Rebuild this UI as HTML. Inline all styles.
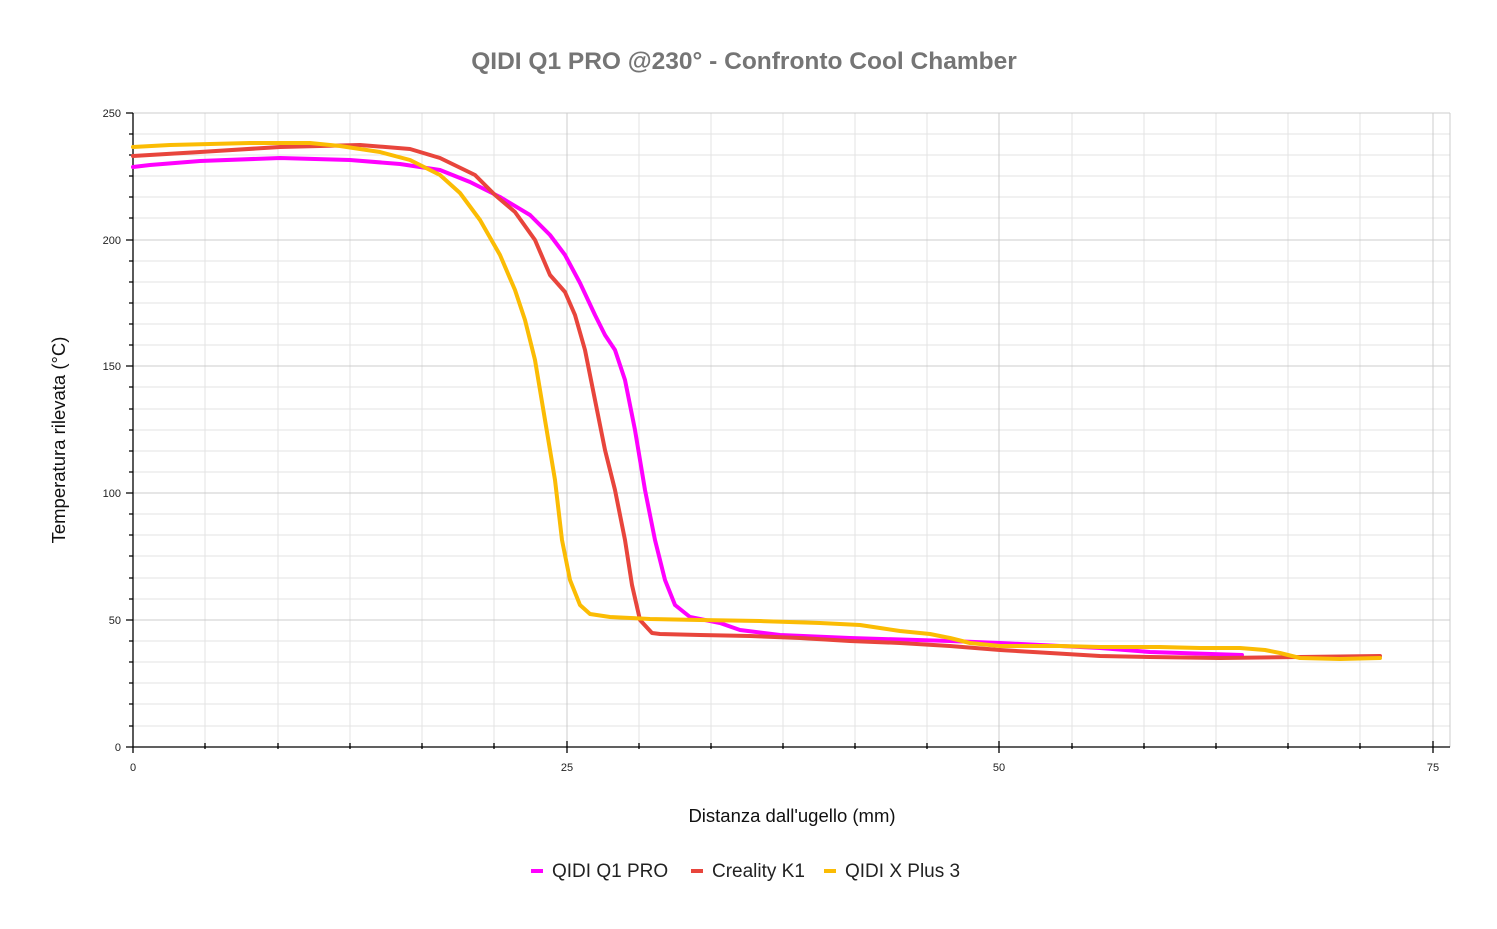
<!DOCTYPE html>
<html><head><meta charset="utf-8"><style>body{margin:0;background:#fff}svg{display:block}</style></head><body>
<svg width="1497" height="929" xmlns="http://www.w3.org/2000/svg" font-family="Liberation Sans, sans-serif">
<rect width="1497" height="929" fill="#fff"/>
<text x="744" y="69" text-anchor="middle" font-size="24.5" font-weight="bold" fill="#757575">QIDI Q1 PRO @230° - Confronto Cool Chamber</text>
<g stroke="#e3e3e3" stroke-width="1">
<line x1="205" y1="113" x2="205" y2="747"/><line x1="278" y1="113" x2="278" y2="747"/><line x1="350" y1="113" x2="350" y2="747"/><line x1="422" y1="113" x2="422" y2="747"/><line x1="494" y1="113" x2="494" y2="747"/>
<line x1="639" y1="113" x2="639" y2="747"/><line x1="711" y1="113" x2="711" y2="747"/><line x1="783" y1="113" x2="783" y2="747"/><line x1="855" y1="113" x2="855" y2="747"/><line x1="927" y1="113" x2="927" y2="747"/>
<line x1="1072" y1="113" x2="1072" y2="747"/><line x1="1144" y1="113" x2="1144" y2="747"/><line x1="1216" y1="113" x2="1216" y2="747"/><line x1="1288" y1="113" x2="1288" y2="747"/><line x1="1360" y1="113" x2="1360" y2="747"/>
<line x1="133" y1="134" x2="1450" y2="134"/><line x1="133" y1="155" x2="1450" y2="155"/><line x1="133" y1="176" x2="1450" y2="176"/><line x1="133" y1="197" x2="1450" y2="197"/><line x1="133" y1="218" x2="1450" y2="218"/>
<line x1="133" y1="261" x2="1450" y2="261"/><line x1="133" y1="282" x2="1450" y2="282"/><line x1="133" y1="303" x2="1450" y2="303"/><line x1="133" y1="324" x2="1450" y2="324"/><line x1="133" y1="345" x2="1450" y2="345"/>
<line x1="133" y1="387" x2="1450" y2="387"/><line x1="133" y1="409" x2="1450" y2="409"/><line x1="133" y1="430" x2="1450" y2="430"/><line x1="133" y1="451" x2="1450" y2="451"/><line x1="133" y1="472" x2="1450" y2="472"/>
<line x1="133" y1="514" x2="1450" y2="514"/><line x1="133" y1="535" x2="1450" y2="535"/><line x1="133" y1="556" x2="1450" y2="556"/><line x1="133" y1="578" x2="1450" y2="578"/><line x1="133" y1="599" x2="1450" y2="599"/>
<line x1="133" y1="641" x2="1450" y2="641"/><line x1="133" y1="662" x2="1450" y2="662"/><line x1="133" y1="683" x2="1450" y2="683"/><line x1="133" y1="704" x2="1450" y2="704"/><line x1="133" y1="726" x2="1450" y2="726"/>
</g>
<g stroke="#cccccc" stroke-width="1">
<line x1="567" y1="113" x2="567" y2="747"/><line x1="999" y1="113" x2="999" y2="747"/><line x1="1433" y1="113" x2="1433" y2="747"/><line x1="1450" y1="113" x2="1450" y2="747"/>
<line x1="133" y1="113" x2="1450" y2="113"/><line x1="133" y1="240" x2="1450" y2="240"/><line x1="133" y1="366" x2="1450" y2="366"/><line x1="133" y1="493" x2="1450" y2="493"/><line x1="133" y1="620" x2="1450" y2="620"/>
</g>
<g stroke="#000" stroke-width="1.3">
<line x1="133" y1="113" x2="133" y2="747"/><line x1="133" y1="747" x2="1450" y2="747"/>
<path d="M126 113h7M126 240h7M126 366h7M126 493h7M126 620h7M126 747h7M129 134h4M129 155h4M129 176h4M129 197h4M129 218h4M129 261h4M129 282h4M129 303h4M129 324h4M129 345h4M129 387h4M129 409h4M129 430h4M129 451h4M129 472h4M129 514h4M129 535h4M129 556h4M129 578h4M129 599h4M129 641h4M129 662h4M129 683h4M129 704h4M129 726h4"/>
<path d="M133 747v6M567 741v12M999 741v12M1433 741v12M205 743v6M278 743v6M350 743v6M422 743v6M494 743v6M639 743v6M711 743v6M783 743v6M855 743v6M927 743v6M1072 743v6M1144 743v6M1216 743v6M1288 743v6M1360 743v6"/>
</g>
<g font-size="11" fill="#222" text-anchor="end">
<text x="121" y="117">250</text><text x="121" y="244">200</text><text x="121" y="370">150</text><text x="121" y="497">100</text><text x="121" y="624">50</text><text x="121" y="751">0</text>
</g>
<g font-size="11" fill="#222" text-anchor="middle">
<text x="133" y="771">0</text><text x="567" y="771">25</text><text x="999" y="771">50</text><text x="1433" y="771">75</text>
</g>
<text x="792" y="822" text-anchor="middle" font-size="18.5" fill="#111">Distanza dall'ugello (mm)</text>
<text transform="translate(65,440) rotate(-90)" text-anchor="middle" font-size="18.5" fill="#111">Temperatura rilevata (°C)</text>
<g fill="none" stroke-width="4" stroke-linejoin="round" stroke-linecap="round">
<polyline stroke="#ff00ff" points="133,167 150,165 200,161 280,158 350,160 400,164 440,170 470,182 500,197 530,215 550,235 565,255 580,283 595,315 605,335 615,350 625,380 635,430 645,490 655,540 665,580 675,605 690,617 720,623 740,630 780,635 850,638 950,641 1000,643 1100,648 1150,652 1242,655"/>
<polyline stroke="#e8453c" points="133,156 200,152 280,147 360,145 410,149 440,158 475,175 495,195 515,212 535,240 550,275 565,292 575,315 585,350 595,400 605,450 615,490 625,540 632,585 640,620 652,633 660,634 700,635 750,636 800,638 850,641 900,643 950,646 1000,650 1050,653 1100,656 1150,657 1220,658 1300,657 1380,656"/>
<polyline stroke="#fbbc04" points="133,147 170,145 250,143 310,143 340,146 380,152 410,160 440,175 460,193 480,220 500,255 515,290 525,320 535,360 545,420 555,480 562,540 570,580 580,605 590,614 610,617 650,619 700,620 760,621 820,623 860,625 880,628 900,631 930,634 950,638 970,643 1000,646 1060,646 1100,647 1160,647 1200,648 1240,648 1265,650 1280,653 1300,658 1340,659 1380,658"/>
</g>
<g font-size="19" fill="#222">
<line x1="531" y1="871" x2="543" y2="871" stroke="#ff00ff" stroke-width="4"/><text x="552" y="877">QIDI Q1 PRO</text>
<line x1="691" y1="871" x2="703" y2="871" stroke="#e8453c" stroke-width="4"/><text x="712" y="877">Creality K1</text>
<line x1="824" y1="871" x2="836" y2="871" stroke="#fbbc04" stroke-width="4"/><text x="845" y="877">QIDI X Plus 3</text>
</g>
</svg>
</body></html>
